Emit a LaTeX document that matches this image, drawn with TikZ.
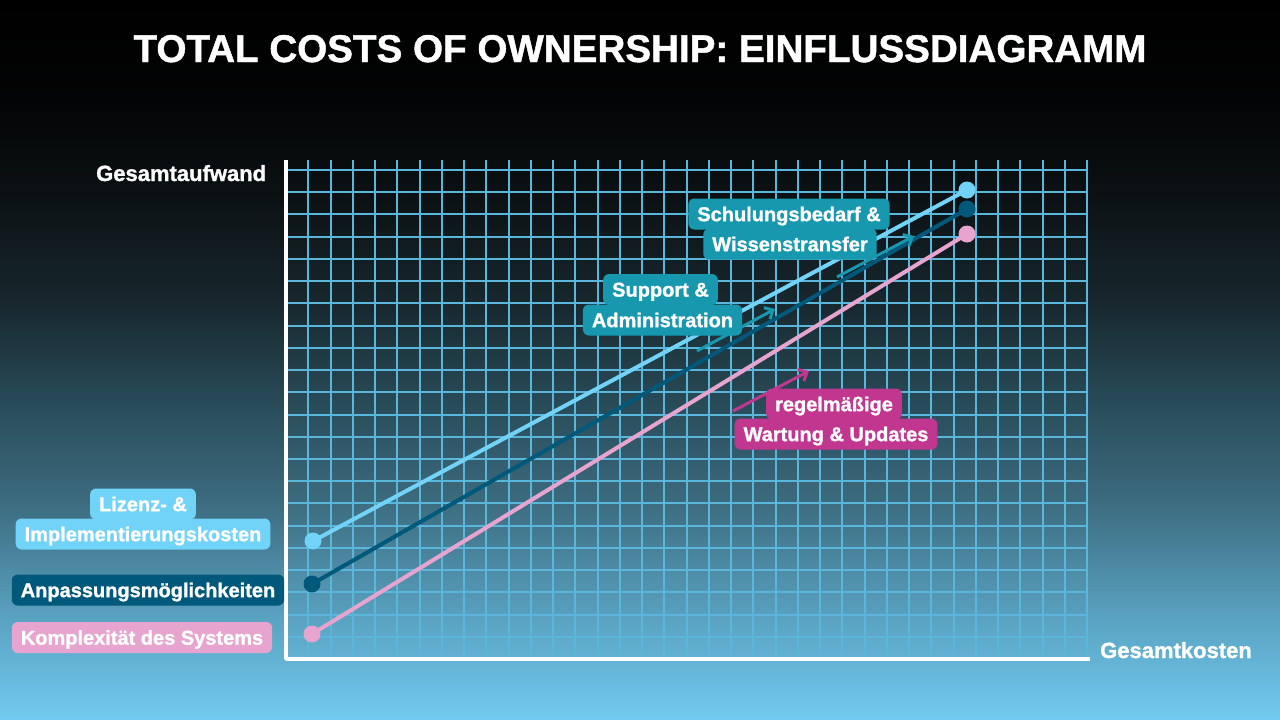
\documentclass[tikz,border=0pt]{standalone}
\usepackage{fontspec}
\setmainfont{Liberation Sans}[BoldFeatures={FakeBold=1.2}]
\usetikzlibrary{arrows.meta}
\definecolor{bgA}{HTML}{72CAF0}
\definecolor{bgB}{HTML}{5AA3C2}
\definecolor{bgC}{HTML}{3C6B7E}
\definecolor{bgD}{HTML}{284A57}
\definecolor{bgE}{HTML}{17272D}
\definecolor{bgF}{HTML}{0C1214}
\definecolor{bgG}{HTML}{030405}
\definecolor{cLB}{HTML}{72D3F8}
\definecolor{cDB}{HTML}{00587A}
\definecolor{cPK}{HTML}{E6A4CE}
\definecolor{cTeal}{HTML}{1898AE}
\definecolor{cMag}{HTML}{C1378F}
\definecolor{cGrid}{HTML}{5BB6DC}
\pgfdeclareverticalshading{bgshade}{100bp}{color(0bp)=(bgA); color(25bp)=(bgA); color(31.94bp)=(bgB); color(40.28bp)=(bgC); color(47.22bp)=(bgD); color(54.17bp)=(bgE); color(61.11bp)=(bgF); color(68.06bp)=(bgG); color(75bp)=(black); color(100bp)=(black)}
\tikzset{
  gridline/.style={draw=cGrid, line width=2pt},
  axisline/.style={draw=white, line width=3.5pt, line join=round},
  lbl/.style={rounded corners=6pt, text=white, inner xsep=9pt, inner ysep=0pt,
    minimum height=31pt, text height=14.3pt, text depth=0pt,
    font=\fontsize{20}{24}\selectfont\bfseries},
  axlbl/.style={text=white, inner sep=0pt, font=\fontsize{22}{26}\selectfont\bfseries},
  dotnode/.style={circle, inner sep=0pt, minimum size=17pt},
  trend/.style={line width=4pt},
  tarrow/.style={line width=3pt, -{Straight Barb[length=7pt,width=13pt]}},
}
\begin{document}
\begin{tikzpicture}[x=1pt,y=-1pt]
\shade[shading=bgshade] (0,0) rectangle (1280,720);
\useasboundingbox (0,0) rectangle (1280,720);
% title
\node[anchor=base, text=white, inner sep=0pt, font=\fontsize{38.6}{44}\selectfont\bfseries] (title) at (640,62) {TOTAL COSTS OF OWNERSHIP: EINFLUSSDIAGRAMM};
% grid
\foreach \k in {1,...,36} \draw[gridline] ({286+22.25*\k},160) -- ({286+22.25*\k},659);
\foreach \j in {1,...,22} \draw[gridline] (286,{659-22.227*\j}) -- (1088,{659-22.227*\j});
% axes
\coordinate (ytop) at (286,160);
\coordinate (orig) at (286,659);
\coordinate (xend) at (1090,659);
\draw[axisline] (ytop) -- (orig) -- (xend);
\node[axlbl, anchor=base west] (ylab) at (96,181) {Gesamtaufwand};
\node[axlbl, anchor=base west] (xlab) at (1100,658) {Gesamtkosten};
% trend lines
\node[dotnode, fill=cLB] (lb1) at (313,541) {};
\node[dotnode, fill=cLB] (lb2) at (967,190) {};
\node[dotnode, fill=cDB] (db1) at (312,584) {};
\node[dotnode, fill=cDB] (db2) at (967,209) {};
\node[dotnode, fill=cPK] (pk1) at (312,634) {};
\node[dotnode, fill=cPK] (pk2) at (967,234) {};
\draw[trend, cPK] (pk1.center) -- (pk2.center);
\draw[trend, cDB] (db1.center) -- (db2.center);
\draw[trend, cLB] (lb1.center) -- (lb2.center);
% small arrows
\coordinate (a1s) at (697,351); \coordinate (a1e) at (775,309);
\coordinate (a2s) at (837,277); \coordinate (a2e) at (914,236);
\coordinate (a3s) at (733,411); \coordinate (a3e) at (809,371);
\draw[tarrow, cTeal] (a1s) -- (a1e);
\draw[tarrow, cTeal] (a2s) -- (a2e);
\draw[tarrow, cMag] (a3s) -- (a3e);
% label boxes
\node[lbl, fill=cTeal] (sch1) at (789,214) {Schulungsbedarf \&};
\node[lbl, fill=cTeal] (sch2) at (790,244) {Wissenstransfer};
\node[lbl, fill=cTeal] (sup1) at (660.5,289.5) {Support \&};
\node[lbl, fill=cTeal] (sup2) at (662.5,320) {Administration};
\node[lbl, fill=cMag] (reg1) at (834,404) {regelmäßige};
\node[lbl, fill=cMag] (reg2) at (836,434) {Wartung \& Updates};
\node[lbl, fill=cLB] (liz1) at (143,504) {Lizenz- \&};
\node[lbl, fill=cLB] (liz2) at (143,534) {Implementierungskosten};
\node[lbl, fill=cDB] (anp) at (148,590) {Anpassungsmöglichkeiten};
\node[lbl, fill=cPK] (kom) at (142,637.5) {Komplexität des Systems};
\end{tikzpicture}
\end{document}
